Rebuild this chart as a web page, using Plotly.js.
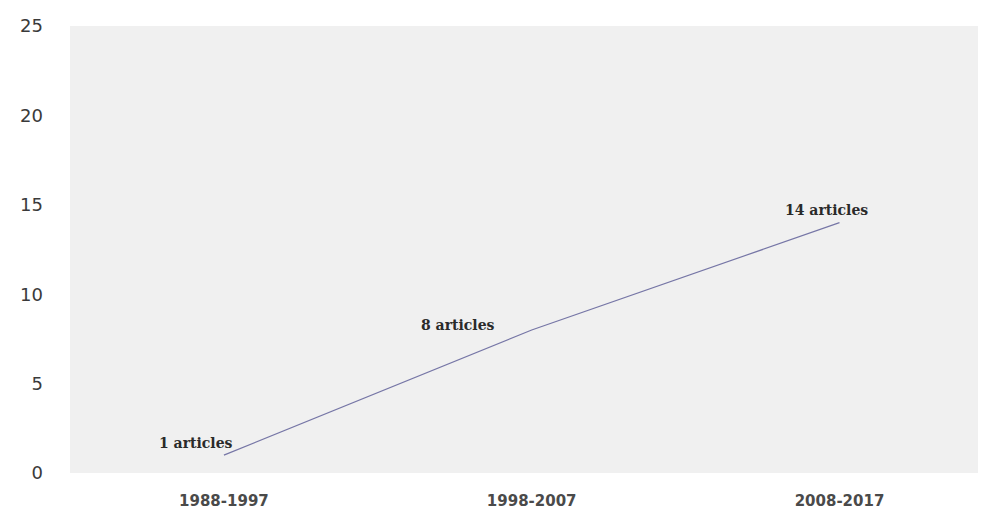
<!DOCTYPE html>
<html>
<head>
<meta charset="utf-8">
<script src="https://cdn.plot.ly/plotly-3.0.1.min.js"></script>
<style>
  html, body { margin: 0; padding: 0; background: #ffffff; }
  #chart { width: 984px; height: 517px; }
</style>
</head>
<body>
<div id="chart"></div>
<script>
// Number of articles published per decade
const periods = ['1988-1997', '1998-2007', '2008-2017'];
const articleCounts = [1, 8, 14];
const yTickValues = [0, 5, 10, 15, 20, 25];

// Label placement relative to each point (pixels)
const labelAnchorX = ['right', 'right', 'center'];
const labelAnchorY = ['middle', 'middle', 'bottom'];
const labelShiftX = [11, -35, -13];
const labelShiftY = [12, 5, 3];

const trace = {
  x: periods,
  y: articleCounts,
  type: 'scatter',
  mode: 'lines',
  line: { color: '#7676a6', width: 1.2 },
  hoverinfo: 'skip',
  showlegend: false
};

const annotations = periods.map((p, i) => ({
  x: p,
  y: articleCounts[i],
  xref: 'x',
  yref: 'y',
  text: articleCounts[i] + ' articles',
  showarrow: false,
  xanchor: labelAnchorX[i],
  yanchor: labelAnchorY[i],
  xshift: labelShiftX[i],
  yshift: labelShiftY[i],
  font: { family: 'DejaVu Serif, serif', size: 14, color: '#2a2a2a', weight: 'bold' }
}));

const layout = {
  width: 984,
  height: 517,
  margin: { l: 70, r: 6, t: 26, b: 44 },
  paper_bgcolor: '#ffffff',
  plot_bgcolor: '#f0f0f0',
  xaxis: {
    type: 'category',
    categoryorder: 'array',
    categoryarray: periods,
    range: [-0.5, 2.45],
    showgrid: false,
    zeroline: false,
    showline: false,
    ticks: '',
    ticklabelstandoff: 17,
    tickfont: { family: 'DejaVu Sans, sans-serif', size: 15, color: '#4a4a4a', weight: 'bold' }
  },
  yaxis: {
    range: [0, 25],
    tickvals: yTickValues,
    showgrid: false,
    zeroline: false,
    showline: false,
    ticks: '',
    ticklabelstandoff: 26,
    tickfont: { family: 'DejaVu Sans, sans-serif', size: 18, color: '#3a3a3a' }
  },
  annotations: annotations
};

Plotly.newPlot('chart', [trace], layout, { displayModeBar: false, staticPlot: true });
</script>
</body>
</html>
